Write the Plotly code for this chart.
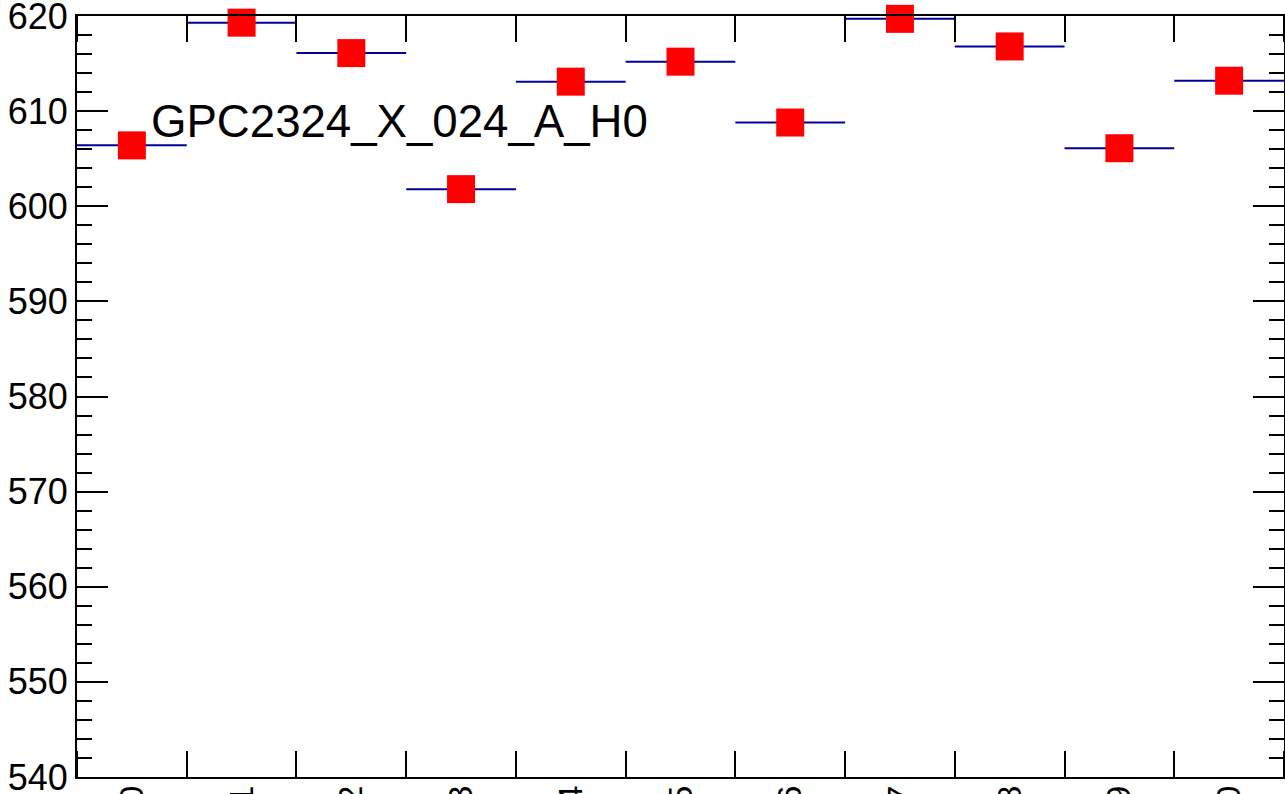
import plotly.graph_objects as go

bin_labels = ["0", "1", "2", "3", "4", "5", "6", "7", "8", "9", "10"]
values = [606.4, 619.3, 616.1, 601.8, 613.1, 615.2, 608.8, 619.7, 616.8, 606.1, 613.2]
half_width = [0.5] * len(values)
y_ticks = [540, 550, 560, 570, 580, 590, 600, 610, 620]
title_text = "GPC2324_X_024_A_H0"

xs = list(range(len(values)))
xrange_ = [-0.5, len(values) - 0.5]
yrange_ = [540, 620]

fig = go.Figure()
# invisible trace to anchor the mirrored (top/right) axes
fig.add_trace(go.Scatter(x=[xs[0]], y=[values[0]], xaxis="x2", yaxis="y2",
                         mode="markers", marker=dict(opacity=0),
                         showlegend=False, hoverinfo="skip"))
fig.add_trace(go.Scatter(
    x=xs, y=values, mode="markers",
    marker=dict(symbol="square", size=28, color="#ff0000", line=dict(width=0)),
    error_x=dict(type="data", array=half_width, symmetric=True, width=0,
                 thickness=2, color="#000099"),
    showlegend=False, hoverinfo="skip", cliponaxis=False,
))

font_family = "Liberation Sans, Arial, sans-serif"

xminor = dict(tick0=-0.5, dtick=1, ticks="inside", ticklen=26,
              tickwidth=2, tickcolor="black", showgrid=False)
yminor = dict(dtick=2, ticks="inside", ticklen=15, tickwidth=2,
              tickcolor="black", showgrid=False)

fig.update_layout(
    width=1285, height=794,
    margin=dict(l=77, r=1, t=16, b=17),
    paper_bgcolor="white", plot_bgcolor="white",
    font=dict(family=font_family, color="black"),
    xaxis=dict(
        range=xrange_, automargin=False,
        tickmode="array", tickvals=xs, ticktext=bin_labels,
        ticks="", tickangle=-90, tickfont=dict(size=34),
        ticklabeloverflow="allow", ticklabelstandoff=-7,
        showgrid=False, zeroline=False,
        showline=True, linewidth=2, linecolor="black",
        minor=xminor,
    ),
    xaxis2=dict(
        range=xrange_, automargin=False, overlaying="x", side="top",
        anchor="y", tickmode="array", tickvals=xs, ticks="",
        showticklabels=False, showgrid=False, zeroline=False,
        showline=True, linewidth=2, linecolor="black",
        minor=xminor,
    ),
    yaxis=dict(
        range=yrange_, automargin=False,
        tickmode="array", tickvals=y_ticks,
        ticks="inside", ticklen=31, tickwidth=2, tickcolor="black",
        tickfont=dict(size=36), ticklabeloverflow="allow",
        showgrid=False, zeroline=False,
        showline=True, linewidth=2, linecolor="black",
        minor=yminor,
    ),
    yaxis2=dict(
        range=yrange_, automargin=False, overlaying="y", side="right",
        anchor="x", tickmode="array", tickvals=y_ticks,
        ticks="inside", ticklen=31, tickwidth=2, tickcolor="black",
        showticklabels=False, showgrid=False, zeroline=False,
        showline=True, linewidth=2, linecolor="black",
        minor=yminor,
    ),
    annotations=[dict(
        text=title_text, xref="paper", yref="paper",
        x=0.0595, y=0.861, xanchor="left", yanchor="middle",
        showarrow=False, font=dict(size=45.6, family=font_family, color="black"),
    )],
)

fig.write_html(
    "out.html",
    config={"displayModeBar": False, "staticPlot": True},
    post_script="document.body.style.margin='0';document.body.style.overflow='hidden';",
)
